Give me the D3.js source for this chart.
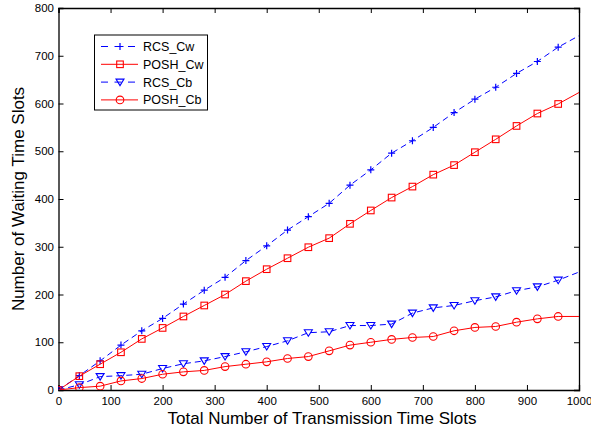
<!DOCTYPE html>
<html>
<head>
<meta charset="utf-8">
<style>
body { margin: 0; background: #fff; }
text { font-family: "Liberation Sans", Arial, sans-serif; fill: #000; }
</style>
</head>
<body>
<script src="https://cdn.jsdelivr.net/npm/d3@7"></script>
<script>

// x positions (transmission time slots)
var slots = [0, 40, 80, 120, 160, 200, 240, 280, 320, 360, 400, 440, 480, 520, 560, 600,
             640, 680, 720, 760, 800, 840, 880, 920, 960, 1000];

var rcsCw  = [0, 30, 61, 94, 124, 150, 180, 209, 236, 271, 302, 335, 363, 391, 429, 461,
              496, 522, 550, 581, 609, 634, 663, 688, 718, 742];
var poshCw = [0, 29, 54, 79, 107, 130, 154, 177, 200, 228, 253, 276, 299, 318, 348, 376,
              403, 426, 451, 471, 498, 525, 553, 579, 599, 623];
var rcsCb  = [0, 11, 28, 30, 33, 45, 55, 61, 70, 80, 91, 103, 120, 122, 135, 135,
              138, 161, 172, 177, 187, 195, 208, 216, 230, 247];
var poshCb = [0, 5, 8, 19, 24, 33, 38, 41, 49, 54, 59, 66, 70, 82, 94, 100,
              106, 110, 112, 124, 131, 133, 142, 149, 154, 154];

var xTicks = [0, 100, 200, 300, 400, 500, 600, 700, 800, 900, 1000];
var yTicks = [0, 100, 200, 300, 400, 500, 600, 700, 800];

var series = [
  {name: "RCS_Cw",  values: rcsCw,  color: "#0000ff", dash: "6,4", marker: "plus"},
  {name: "POSH_Cw", values: poshCw, color: "#ff0000", dash: null,  marker: "square"},
  {name: "RCS_Cb",  values: rcsCb,  color: "#0000ff", dash: "6,4", marker: "triangle"},
  {name: "POSH_Cb", values: poshCb, color: "#ff0000", dash: null,  marker: "circle"}
];

var width = 591, height = 432;
var pLeft = 58.5, pRight = 579, pTop = 8, pBottom = 390;

var svg = d3.select("body").append("svg")
    .attr("width", width)
    .attr("height", height);

var x = d3.scaleLinear().domain([0, 1000]).range([pLeft, pRight]);
var y = d3.scaleLinear().domain([0, 800]).range([pBottom, pTop]);

// axes (ticks pointing inward, mirrored on top/right)
svg.append("g")
    .attr("transform", "translate(0," + pBottom + ")")
    .call(d3.axisBottom(x).tickValues(xTicks).tickSize(-5).tickPadding(6.5).tickFormat(d3.format("d")));
svg.append("g")
    .attr("transform", "translate(0," + pTop + ")")
    .call(d3.axisTop(x).tickValues(xTicks).tickSize(-5).tickFormat(""));
svg.append("g")
    .attr("transform", "translate(" + pLeft + ",0)")
    .call(d3.axisLeft(y).tickValues(yTicks).tickSize(-5).tickPadding(4.5).tickFormat(d3.format("d")));
svg.append("g")
    .attr("transform", "translate(" + pRight + ",0)")
    .call(d3.axisRight(y).tickValues(yTicks).tickSize(-5).tickFormat(""));

svg.selectAll(".domain").attr("stroke", "#000").attr("stroke-width", 1.3);
svg.selectAll(".tick line").attr("stroke", "#000");
svg.selectAll(".tick text")
    .style("font-size", "11.5px")
    .style("font-family", "Liberation Sans, Arial, sans-serif")
    .attr("fill", "#000");

// clip for the lines
svg.append("clipPath").attr("id", "plotclip")
  .append("rect")
    .attr("x", pLeft).attr("y", pTop)
    .attr("width", pRight - pLeft).attr("height", pBottom - pTop);

var line = d3.line()
    .x(function(d) { return x(d.x); })
    .y(function(d) { return y(d.y); });

function drawMarker(g, type, color) {
  if (type == "plus") {
    g.append("path").attr("d", "M-3.5,0H3.5M0,-3.5V3.5")
      .attr("stroke", color).attr("stroke-width", 1.2).attr("fill", "none");
  } else if (type == "square") {
    g.append("rect").attr("x", -3.3).attr("y", -3.3).attr("width", 6.6).attr("height", 6.6)
      .attr("stroke", color).attr("stroke-width", 1.1).attr("fill", "none");
  } else if (type == "triangle") {
    g.append("path").attr("d", "M-4,-3L4,-3L0,3.5Z")
      .attr("stroke", color).attr("stroke-width", 1.1).attr("fill", "none");
  } else {
    g.append("circle").attr("r", 3.8)
      .attr("stroke", color).attr("stroke-width", 1.1).attr("fill", "none");
  }
}

var plot = svg.append("g").attr("clip-path", "url(#plotclip)");

series.forEach(function(s) {
  var pts = slots.map(function(v, i) { return {x: v, y: s.values[i]}; });

  plot.append("path")
      .datum(pts)
      .attr("d", line)
      .attr("fill", "none")
      .attr("stroke", s.color)
      .attr("stroke-width", 1)
      .attr("stroke-dasharray", s.dash);

  // markers only on the sampled points (last point sits on the border)
  plot.selectAll(null)
      .data(pts.slice(0, pts.length - 1))
      .enter().append("g")
      .attr("transform", function(d) { return "translate(" + x(d.x) + "," + y(d.y) + ")"; })
      .each(function() { drawMarker(d3.select(this), s.marker, s.color); });
});

// legend
var legend = svg.append("g");
legend.append("rect")
    .attr("x", 94.5).attr("y", 35)
    .attr("width", 113).attr("height", 75)
    .attr("fill", "#fff").attr("stroke", "#000").attr("stroke-width", 1);

series.forEach(function(s, i) {
  var ly = 46.5 + i * 17.8;
  legend.append("line")
      .attr("x1", 101).attr("x2", 138)
      .attr("y1", ly).attr("y2", ly)
      .attr("stroke", s.color).attr("stroke-width", 1)
      .attr("stroke-dasharray", s.dash ? "7,6.5" : null);
  var m = legend.append("g").attr("transform", "translate(120," + ly + ")");
  drawMarker(m, s.marker, s.color);
  legend.append("text")
      .attr("x", 143).attr("y", ly + 4.5)
      .style("font-size", "12.5px")
      .text(s.name);
});

// axis labels
svg.append("text")
    .attr("x", 322).attr("y", 424)
    .attr("text-anchor", "middle")
    .style("font-size", "17px")
    .text("Total Number of Transmission Time Slots");

svg.append("text")
    .attr("transform", "translate(24," + ((pTop + pBottom) / 2) + ") rotate(-90)")
    .attr("text-anchor", "middle")
    .style("font-size", "17px")
    .text("Number of Waiting Time Slots");

</script>
</body>
</html>
